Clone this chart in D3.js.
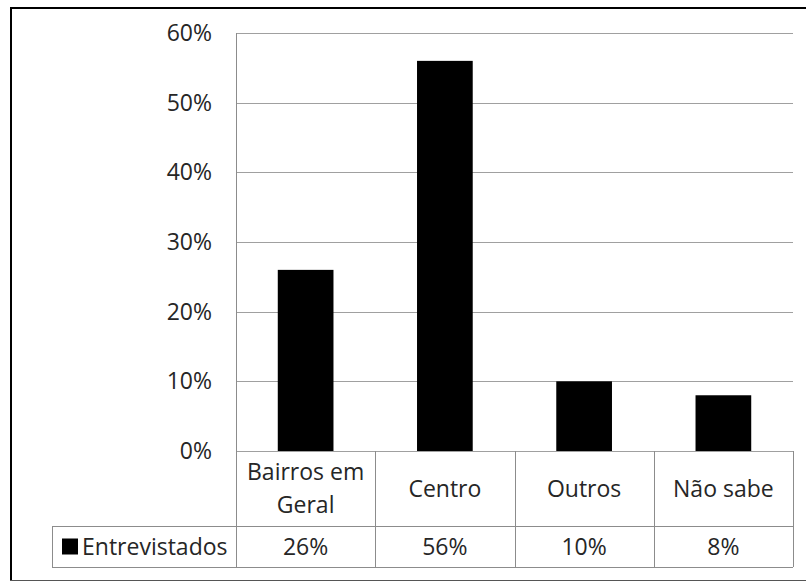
<!DOCTYPE html>
<html>
<head>
<meta charset="utf-8">
<script src="https://cdn.jsdelivr.net/npm/d3@7"></script>
<style>
  body { margin: 0; background: #fff; }
  text { font-family: "Open Sans", sans-serif; fill: #262626; }
</style>
</head>
<body>
<div id="chart"></div>
<script>
// data
var categories = [["Bairros em", "Geral"], ["Centro"], ["Outros"], ["Não sabe"]];
var values = [0.26, 0.56, 0.10, 0.08];
var seriesName = "Entrevistados";
var yTicks = [0, 0.1, 0.2, 0.3, 0.4, 0.5, 0.6];

var svgWidth = 806;
var svgHeight = 583;
var fontSize = "23px";

var plot = { left: 236, right: 793, top: 33, bottom: 451 };
var catRowBottom = 526;
var valRowBottom = 567;
var legendLeft = 52;

var svg = d3.select("#chart")
  .append("svg")
  .attr("width", svgWidth)
  .attr("height", svgHeight);

// outer frame
svg.append("line")
  .attr("x1", 11).attr("x2", svgWidth).attr("y1", 8).attr("y2", 8)
  .attr("stroke", "#000").attr("stroke-width", 2);
svg.append("line")
  .attr("x1", 11).attr("x2", 11).attr("y1", 7).attr("y2", 581)
  .attr("stroke", "#000").attr("stroke-width", 2);
svg.append("line")
  .attr("x1", 10).attr("x2", svgWidth).attr("y1", 580.5).attr("y2", 580.5)
  .attr("stroke", "#555").attr("stroke-width", 1);

var x = d3.scaleBand()
  .domain(d3.range(values.length))
  .range([plot.left, plot.right])
  .padding(0);

var y = d3.scaleLinear()
  .domain([0, 0.6])
  .range([plot.bottom, plot.top]);

// gridlines
svg.append("g")
  .selectAll("line")
  .data(yTicks)
  .enter()
  .append("line")
  .attr("x1", plot.left)
  .attr("x2", plot.right)
  .attr("y1", d => Math.round(y(d)) + 0.5)
  .attr("y2", d => Math.round(y(d)) + 0.5)
  .attr("stroke", "#a0a0a0")
  .attr("stroke-width", 1);

// y axis labels
var yAxis = d3.axisLeft(y)
  .tickValues(yTicks)
  .tickFormat(d3.format(".0%"))
  .tickSize(0)
  .tickPadding(24);

var yg = svg.append("g")
  .attr("transform", `translate(${plot.left},0)`)
  .call(yAxis);
yg.select(".domain").remove();
yg.selectAll("text")
  .style("font-size", fontSize)
  .style("font-family", "'Open Sans', sans-serif")
  .attr("fill", "#262626");

// bars
var barW = x.bandwidth() * 0.4;
svg.append("g")
  .selectAll("rect")
  .data(values)
  .enter()
  .append("rect")
  .attr("x", (d, i) => x(i) + (x.bandwidth() - barW) / 2)
  .attr("y", d => y(d))
  .attr("width", barW)
  .attr("height", d => y(0) - y(d))
  .attr("fill", "#000");

// data table lines
var tableColor = "#8c8c8c";
var tg = svg.append("g").attr("stroke", tableColor).attr("stroke-width", 1);
tg.append("line")
  .attr("x1", plot.left + 0.5).attr("x2", plot.left + 0.5)
  .attr("y1", plot.top).attr("y2", valRowBottom);
x.domain().forEach(function(i) {
  var xr = Math.round(x(i) + x.bandwidth()) + 0.5;
  tg.append("line")
    .attr("x1", xr).attr("x2", xr)
    .attr("y1", plot.bottom).attr("y2", valRowBottom);
});
tg.append("line")
  .attr("x1", legendLeft).attr("x2", plot.right)
  .attr("y1", catRowBottom + 0.5).attr("y2", catRowBottom + 0.5);
tg.append("line")
  .attr("x1", legendLeft).attr("x2", plot.right)
  .attr("y1", valRowBottom + 0.5).attr("y2", valRowBottom + 0.5);
tg.append("line")
  .attr("x1", legendLeft + 0.5).attr("x2", legendLeft + 0.5)
  .attr("y1", catRowBottom).attr("y2", valRowBottom);

// category labels
var lineH = 33;
var catMid = (plot.bottom + catRowBottom) / 2;
svg.append("g")
  .selectAll("text")
  .data(categories)
  .enter()
  .append("text")
  .attr("text-anchor", "middle")
  .attr("font-size", fontSize)
  .each(function(d, i) {
    var t = d3.select(this);
    var y0 = catMid - (d.length - 1) * lineH / 2;
    d.forEach(function(line, j) {
      t.append("tspan")
        .attr("x", x(i) + x.bandwidth() / 2)
        .attr("y", y0 + j * lineH)
        .attr("dy", "0.35em")
        .text(line);
    });
  });

// value row
var valMid = (catRowBottom + valRowBottom) / 2;
svg.append("g")
  .selectAll("text")
  .data(values)
  .enter()
  .append("text")
  .attr("x", (d, i) => x(i) + x.bandwidth() / 2)
  .attr("y", valMid)
  .attr("dy", "0.35em")
  .attr("text-anchor", "middle")
  .attr("font-size", fontSize)
  .text(d => d3.format(".0%")(d));

// legend key
svg.append("rect")
  .attr("x", 62).attr("y", valMid - 8)
  .attr("width", 16).attr("height", 16)
  .attr("fill", "#000");
svg.append("text")
  .attr("x", 82)
  .attr("y", valMid)
  .attr("dy", "0.35em")
  .attr("font-size", fontSize)
  .text(seriesName);
</script>
</body>
</html>
